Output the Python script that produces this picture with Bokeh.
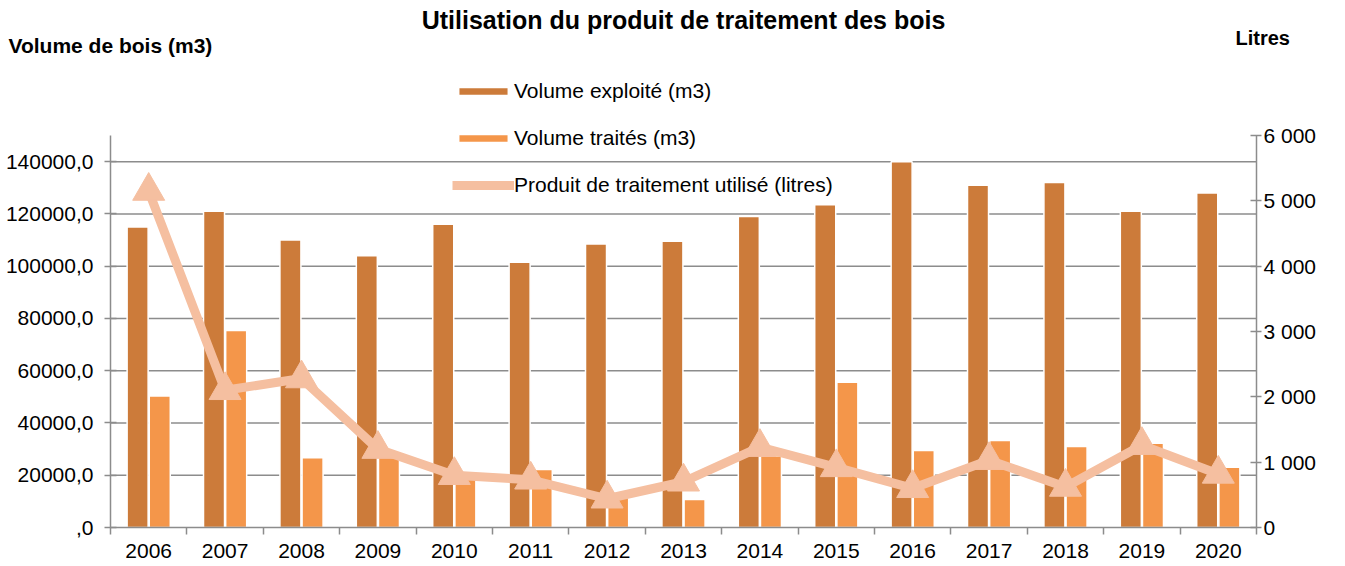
from bokeh.plotting import figure
from bokeh.models import (Range1d, LinearAxis, FixedTicker, Legend, LegendItem,
                          Label, ColumnDataSource)
from bokeh.transform import dodge
from bokeh.embed import file_html
from bokeh.resources import INLINE

YEARS = ["2006", "2007", "2008", "2009", "2010", "2011", "2012", "2013",
         "2014", "2015", "2016", "2017", "2018", "2019", "2020"]
VOLUME_EXPLOITE = [115000, 121000, 110000, 104000, 116000, 101500, 108500, 109500,
                   119000, 123500, 140000, 131000, 132000, 121000, 128000]
VOLUME_TRAITES = [50300, 75400, 26700, 27000, 19000, 22200, 12000, 10700,
                  27500, 55600, 29500, 33300, 31000, 32200, 23100]
PRODUIT_LITRES = [5150, 2100, 2280, 1200, 800, 730, 440, 700,
                  1230, 920, 600, 1030, 620, 1260, 820]
LEFT_TICKS = [0, 20000, 40000, 60000, 80000, 100000, 120000, 140000]
LEFT_TICK_LABELS = [",0", "20000,0", "40000,0", "60000,0", "80000,0",
                    "100000,0", "120000,0", "140000,0"]
LEFT_MAX = 150000
RIGHT_TICKS = [0, 1000, 2000, 3000, 4000, 5000, 6000]
RIGHT_TICK_LABELS = ["0", "1 000", "2 000", "3 000", "4 000", "5 000", "6 000"]
RIGHT_MAX = 6000

DARK = "#CC7B3A"
LIGHT = "#F4964A"
SALMON = "#F5BFA0"
GRID = "#8C8C8C"
FONT = "Liberation Sans"

# canvas / plot-area layout (pixels)
W, H = 1343, 564
AX_L, AX_R, AX_T, AX_B = 110, 1256, 135, 527

n = len(YEARS)
xs = list(range(1, n + 1))
x_lo, x_hi = 0.5, n + 0.5
ppu = (AX_R - AX_L) / (x_hi - x_lo)
x_range = Range1d(x_lo - AX_L / ppu, x_hi + (W - AX_R) / ppu)
ky = LEFT_MAX / (AX_B - AX_T)
y_range = Range1d(-(H - AX_B) * ky, LEFT_MAX + AX_T * ky)
kr = RIGHT_MAX / (AX_B - AX_T)
r_range = Range1d(-(H - AX_B) * kr, RIGHT_MAX + AX_T * kr)

src = ColumnDataSource(dict(x=xs, year=YEARS, expl=VOLUME_EXPLOITE,
                            trait=VOLUME_TRAITES, litres=PRODUIT_LITRES))

p = figure(width=W, height=H, output_backend="svg", toolbar_location=None,
           x_range=x_range, y_range=y_range, min_border=0,
           outline_line_color=None, background_fill_color="white")
p.extra_y_ranges = {"right": r_range}
p.xgrid.grid_line_color = None
p.ygrid.grid_line_color = None

# x axis
xax = p.xaxis[0]
xax.fixed_location = 0
xax.bounds = (x_lo, x_hi)
xax.ticker = FixedTicker(ticks=xs, minor_ticks=[x_lo + i for i in range(n + 1)])
xax.major_label_overrides = {x: y for x, y in zip(xs, YEARS)}
xax.major_tick_out = 0
xax.major_tick_in = 0
xax.minor_tick_out = 7
xax.minor_tick_in = 0
xax.minor_tick_line_color = GRID
xax.minor_tick_line_width = 1.5
xax.axis_line_color = GRID
xax.axis_line_width = 1.5
xax.major_label_standoff = 9
xax.major_label_text_font = FONT
xax.major_label_text_font_size = "21px"
xax.major_label_text_color = "black"

# left axis
yax = p.yaxis[0]
yax.fixed_location = x_lo
yax.bounds = (0, LEFT_MAX)
yax.ticker = FixedTicker(ticks=LEFT_TICKS)
yax.major_label_overrides = {t: l for t, l in zip(LEFT_TICKS, LEFT_TICK_LABELS)}
yax.major_tick_out = 6
yax.major_tick_in = 6
yax.minor_tick_out = 0
yax.minor_tick_in = 0
yax.major_tick_line_color = GRID
yax.major_tick_line_width = 1.5
yax.axis_line_color = GRID
yax.axis_line_width = 1.5
yax.major_label_standoff = 11
yax.major_label_text_font = FONT
yax.major_label_text_font_size = "21px"
yax.major_label_text_color = "black"

# right axis
rax = LinearAxis(y_range_name="right", ticker=FixedTicker(ticks=RIGHT_TICKS))
rax.fixed_location = x_hi
rax.bounds = (0, RIGHT_MAX)
rax.major_label_overrides = {t: l for t, l in zip(RIGHT_TICKS, RIGHT_TICK_LABELS)}
rax.major_tick_out = 5
rax.major_tick_in = 6
rax.minor_tick_out = 0
rax.minor_tick_in = 0
rax.major_tick_line_color = GRID
rax.major_tick_line_width = 1.5
rax.axis_line_color = GRID
rax.axis_line_width = 1.5
rax.major_label_standoff = 2
rax.major_label_text_font = FONT
rax.major_label_text_font_size = "21px"
rax.major_label_text_color = "black"
p.add_layout(rax, "right")

# horizontal gridlines at the left-axis ticks, limited to the plot area
grid_vals = [t for t in LEFT_TICKS if t > 0]
p.segment(x0=[x_lo] * len(grid_vals), x1=[x_hi] * len(grid_vals),
          y0=grid_vals, y1=grid_vals, line_color=GRID, line_width=1.5)

b1 = p.vbar(x=dodge("x", -0.145, range=p.x_range), top="expl", width=0.275, source=src,
            fill_color=DARK, line_color="white", line_width=1.5)
b2 = p.vbar(x=dodge("x", 0.145, range=p.x_range), top="trait", width=0.275, source=src,
            fill_color=LIGHT, line_color="white", line_width=1.5)
ln = p.line(x="x", y="litres", source=src, y_range_name="right", line_color=SALMON,
            line_width=9, line_join="round")
mk = p.scatter(x="x", y="litres", source=src, y_range_name="right", marker="triangle",
               size=32, fill_color=SALMON, line_color=SALMON)

legend = Legend(items=[LegendItem(label="Volume exploité (m3)", renderers=[b1]),
                       LegendItem(label="Volume traités (m3)", renderers=[b2]),
                       LegendItem(label="Produit de traitement utilisé (litres)", renderers=[ln, mk])],
                location=(452, H - 197), orientation="vertical",
                glyph_width=62, glyph_height=10, label_height=23, spacing=23,
                label_standoff=0, padding=0, margin=0,
                border_line_color=None, background_fill_alpha=0,
                label_text_font=FONT, label_text_font_size="21px", label_text_color="black")
p.add_layout(legend, "center")

p.add_layout(Label(x=683, y=H - 19, x_units="screen", y_units="screen",
                   text="Utilisation du produit de traitement des bois",
                   text_font=FONT, text_font_size="25px", text_font_style="bold",
                   text_align="center", text_baseline="middle", text_color="black"))
p.add_layout(Label(x=8, y=H - 45, x_units="screen", y_units="screen",
                   text="Volume de bois (m3)",
                   text_font=FONT, text_font_size="21px", text_font_style="bold",
                   text_align="left", text_baseline="middle", text_color="black"))
p.add_layout(Label(x=1235, y=H - 37, x_units="screen", y_units="screen",
                   text="Litres",
                   text_font=FONT, text_font_size="20px", text_font_style="bold",
                   text_align="left", text_baseline="middle", text_color="black"))

open("out.html", "w").write(file_html(p, INLINE))
